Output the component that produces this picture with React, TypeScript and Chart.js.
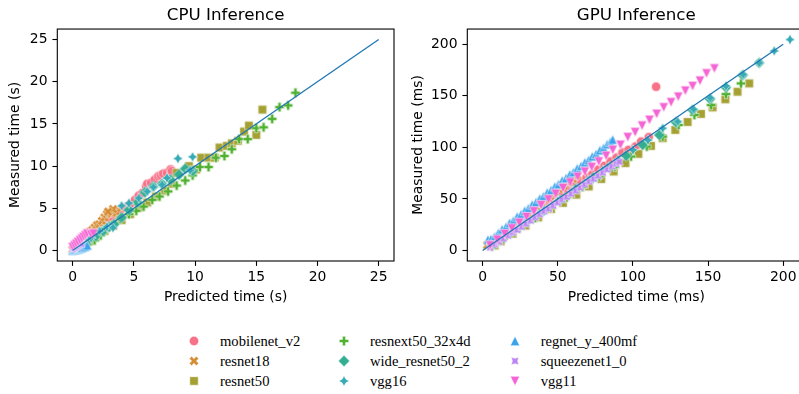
import React, { useEffect, useRef } from "react";
import { Chart, registerables } from "chart.js";

Chart.register(...registerables);

// ---------- categories / styling keys ----------
const models = [
  "mobilenet_v2",
  "resnet18",
  "resnet50",
  "resnext50_32x4d",
  "wide_resnet50_2",
  "vgg16",
  "regnet_y_400mf",
  "squeezenet1_0",
  "vgg11",
];
const colors = [
  "#f77189",
  "#d58c32",
  "#a4a031",
  "#50b131",
  "#34ae91",
  "#37abb5",
  "#3ba3ec",
  "#bb83f4",
  "#f564d4",
];
const markerShapes = [
  "circle",
  "xfilled",
  "square",
  "plusfilled",
  "diamond",
  "star4",
  "triUp",
  "star4rot",
  "triDown",
];

// ---------- ticks ----------
const cpuXTicks = [0, 5, 10, 15, 20, 25];
const cpuYTicks = [0, 5, 10, 15, 20, 25];
const gpuXTicks = [0, 50, 100, 150, 200];
const gpuYTicks = [0, 50, 100, 150, 200];
const cpuIdentity = [0, 25];
const gpuIdentity = [0, 200];

// ---------- CPU data: [predicted s, measured s] ----------
const cpuMobilenet = [[0.1,0.4],[0.3,0.6],[0.6,1.0],[0.9,1.3],[1.2,1.6],[1.5,2.0],[1.9,2.4],[2.3,2.8],[2.7,3.2],[3.1,3.7],[3.5,4.2],[3.9,4.7],[4.3,5.1],[4.7,5.5],[5.1,6.0],[5.4,6.5],[5.7,6.8],[6.0,7.6],[6.1,7.9],[6.4,8.0],[6.7,8.4],[7.0,8.8],[7.2,8.9],[7.4,9.1],[7.7,9.2],[8.0,9.6],[8.1,9.4]];
const cpuResnet18 = [[0.0,0.1],[0.2,0.4],[0.4,0.7],[0.6,1.0],[0.8,1.3],[1.0,1.6],[1.2,1.9],[1.4,2.2],[1.6,2.4],[1.8,2.7],[2.0,3.0],[2.2,3.1],[2.4,3.5],[2.6,3.9],[2.8,4.3],[3.0,4.5],[3.2,4.4],[3.4,4.7],[3.6,4.5],[3.3,4.9],[2.9,4.6]];
const cpuResnet50 = [[0.3,0.2],[0.8,0.6],[1.4,1.1],[2.0,1.7],[2.6,2.3],[3.3,2.9],[4.0,3.6],[4.7,4.3],[5.4,5.1],[6.1,5.7],[6.8,6.4],[7.5,7.1],[8.1,7.9],[8.5,9.2],[9.5,10.0],[10.1,9.6],[10.5,11.0],[11.1,11.0],[11.6,11.0],[12.0,12.2],[12.6,12.4],[13.0,12.7],[13.5,13.0],[14.0,14.1],[14.4,14.8],[15.0,13.7],[15.5,16.7]];
const cpuResnext50 = [[0.6,0.2],[1.2,0.7],[1.8,1.2],[2.3,1.8],[2.7,2.5],[3.2,3.0],[3.9,3.7],[4.6,4.3],[5.2,4.7],[5.8,5.2],[6.5,6.0],[7.1,6.4],[7.8,7.0],[8.5,7.7],[9.2,8.3],[9.8,8.9],[10.4,9.9],[11.1,9.9],[11.7,11.0],[12.4,11.2],[13.0,12.0],[13.6,13.2],[14.3,13.2],[15.0,14.5],[15.6,14.6],[16.3,15.6],[16.9,17.0],[17.6,17.2],[18.2,18.7]];
const cpuWideResnet = [[1.3,1.2],[1.9,1.7],[2.5,2.3],[3.0,2.8],[3.4,3.1],[4.0,3.9],[4.6,4.8],[5.3,5.7],[5.9,6.9],[6.6,7.6],[7.3,7.9],[8.0,8.4],[8.7,9.0],[9.2,9.7],[9.8,9.4]];
const cpuVgg16 = [[0.9,0.8],[1.5,1.5],[2.2,2.3],[2.8,2.8],[3.3,2.7],[4.0,5.3],[4.6,5.6],[5.4,6.2],[6.1,7.0],[6.6,7.5],[7.3,7.8],[7.7,8.6],[8.6,10.9],[9.8,11.1],[9.6,9.5]];
const cpuRegnet = [[0.0,0.0],[0.1,0.05],[0.2,0.1],[0.3,0.1],[0.4,0.15],[0.5,0.2],[0.6,0.25],[0.7,0.3],[0.8,0.35],[1.0,0.45],[1.2,0.6]];
const cpuSqueezenet = [[0.0,0.2],[0.1,0.3],[0.2,0.4],[0.3,0.5],[0.4,0.6],[0.5,0.7],[0.7,0.8]];
const cpuVgg11 = [[0.0,0.4],[0.15,0.6],[0.3,0.8],[0.45,1.0],[0.6,1.2],[0.75,1.4],[0.9,1.6],[1.05,1.8],[1.2,2.0],[1.5,1.9],[1.7,2.0]];

// ---------- GPU data: [predicted ms, measured ms] ----------
const gpuMobilenet = [[5,6],[9,10],[13,14.5],[17,18.5],[21,22],[25,26.5],[29,30],[33,34.5],[37,38],[41,42.5],[45,46],[49,50.5],[53,54],[57,58.5],[61,62],[65,66],[69,70.5],[73,74],[77,78.5],[81,82],[85,86.3],[89,90],[93,95],[97,97.5],[101.7,100.8],[105.4,105.6],[110.5,109.9],[115.4,158.8]];
const gpuResnet18 = [[3,5],[6,8],[9,11],[12,14.5],[15,18],[18,21.5],[21,25],[24,28.5],[27,32],[30,35.5],[33,39],[36,42.5],[39,46],[42,49.5],[45,53],[48,56],[51,59.5],[54,63],[57,66],[60,69.5],[63,73]];
const gpuResnet50 = [[8,5],[12,8.9],[20,16.3],[28.5,24.2],[37,32.1],[45.5,40.1],[53.4,46.1],[62.3,54.1],[70.6,62.1],[78.9,69.3],[87.2,76.6],[95,84.7],[103.6,93.7],[112,101.4],[119.8,108.9],[128.2,116.9],[136.4,124.6],[145.3,132.4],[153,138.8],[161.5,146.6],[169.6,153.9],[177.4,162]];
const gpuResnext50 = [[6,4],[14,11.5],[24.5,21.5],[35,31.5],[45.5,41.5],[56,51.5],[66.5,61.5],[77.7,71.8],[88,81],[98.8,91.1],[109.2,100.8],[119.8,110.4],[130.4,121.7],[140.9,131.4],[152,141],[161.9,151.7],[171.9,162]];
const gpuWideResnet = [[8,7],[18.5,17],[29.5,28],[40.5,38.5],[51.5,49],[62.5,60],[73.5,70.5],[84.5,81],[95.5,91.8],[106.5,102.4],[117.6,112],[128.7,124.3],[139.7,136.2],[151.3,146.9],[161.9,158.2],[173,170],[184,182]];
const gpuVgg16 = [[10,9],[20,19],[30,29],[40,38.5],[50,48],[60,58],[70,68],[80,78],[90,88],[100,97.5],[110,107],[119.8,118.5],[129.8,125],[140.4,136.9],[151.5,148],[161.9,159.4],[173.4,170.7],[184,182],[194,193.5],[204.5,204.5]];
const gpuRegnet = [[3.5,10.5],[5.5,11],[8,13.5],[10.5,17],[13,20.5],[15.5,23],[18,26.8],[20.5,29],[23,32.8],[25.5,35],[28,38.6],[30.5,41],[33,44.5],[35.5,46.8],[38,50.3],[40.5,52.6],[43,56.2],[45.5,58.5],[48,62],[50.5,64.3],[53,67.9],[55.5,70.2],[58,73.7],[60.5,76],[63,79.6],[65.5,82],[68,85.4],[70.5,87.8],[73,91.3],[75.5,93.6],[78,97.2],[80.5,99.5],[83,103],[85,105.2],[86.5,107.5]];
const gpuSqueezenet = [[5,3],[8,6],[11,8.5],[14,11.5],[17,14.5],[20,17.5],[23,20],[26,23],[29,26],[32,29],[35,32],[38,35],[41,38],[44,40.5],[47,43.5],[50,46.5],[53,49.5],[56,52],[59,55],[62,58],[65,61],[68,64],[71,67],[74,69.5],[77,72.5],[80,75.5],[83,78.5],[86,81.5],[89,84],[91,86]];
const gpuVgg11 = [[5,5],[9.8,10.5],[14.7,16],[19.5,21.5],[24.4,27],[29.2,32.5],[34.1,38],[38.9,44],[43.8,49.5],[48.6,55],[53.5,60.6],[58.3,66],[63.2,71.5],[68,76.5],[72.6,80.9],[77.3,86.3],[82.2,91.8],[86.6,97.6],[91.7,102.4],[96.6,109.9],[101.5,114.7],[106.1,121.1],[111,126.6],[115.8,132.4],[120.5,138.8],[125.4,143.7],[130.2,149.1],[134.9,154.9],[139.7,159.4],[144.6,164.6],[149,171.7],[154.2,176.5]];

const cpuSeries = [cpuMobilenet, cpuResnet18, cpuResnet50, cpuResnext50, cpuWideResnet, cpuVgg16, cpuRegnet, cpuSqueezenet, cpuVgg11];
const gpuSeries = [gpuMobilenet, gpuResnet18, gpuResnet50, gpuResnext50, gpuWideResnet, gpuVgg16, gpuRegnet, gpuSqueezenet, gpuVgg11];

// ---------- marker drawing ----------
const MARKER_SIZE = 9.4;
const MC = 16; // marker canvas size
function drawMarker(ctx: CanvasRenderingContext2D, shape: string, cx: number, cy: number, s: number, color: string) {
  ctx.beginPath();
  const poly = (pts: number[][]) => {
    pts.forEach(([x, y], i) => {
      if (i === 0) ctx.moveTo(cx + x * s, cy + y * s);
      else ctx.lineTo(cx + x * s, cy + y * s);
    });
    ctx.closePath();
  };
  const star = (rotDeg: number) => {
    const pts: number[][] = [];
    for (let k = 0; k < 8; k++) {
      const a = ((rotDeg + k * 45) * Math.PI) / 180;
      const r = k % 2 === 0 ? 0.56 : 0.28;
      pts.push([r * Math.sin(a), -r * Math.cos(a)]);
    }
    poly(pts);
  };
  switch (shape) {
    case "circle":
      ctx.arc(cx, cy, s / 2, 0, Math.PI * 2);
      break;
    case "xfilled":
      poly([[-1,-2],[0,-1],[1,-2],[2,-1],[1,0],[2,1],[1,2],[0,1],[-1,2],[-2,1],[-1,0],[-2,-1]].map(([x, y]) => [x / 4, y / 4]));
      break;
    case "square":
      poly([[-0.45,-0.45],[0.45,-0.45],[0.45,0.45],[-0.45,0.45]]);
      break;
    case "plusfilled": {
      const a = 1 / 6;
      poly([[-a,-0.5],[a,-0.5],[a,-a],[0.5,-a],[0.5,a],[a,a],[a,0.5],[-a,0.5],[-a,a],[-0.5,a],[-0.5,-a],[-a,-a]]);
      break;
    }
    case "diamond": {
      const d = 0.6;
      poly([[0,-d],[d,0],[0,d],[-d,0]]);
      break;
    }
    case "star4":
      star(0);
      break;
    case "star4rot":
      star(45);
      break;
    case "triUp":
      poly([[0,-0.5],[-0.5,0.5],[0.5,0.5]]);
      break;
    case "triDown":
      poly([[0,0.5],[-0.5,-0.5],[0.5,-0.5]]);
      break;
  }
  ctx.fillStyle = color;
  ctx.fill();
  ctx.lineWidth = 0.55;
  ctx.strokeStyle = "#ffffff";
  ctx.stroke();
}

function makeMarkerCanvas(shape: string, color: string) {
  const c = document.createElement("canvas");
  c.width = MC;
  c.height = MC;
  const ctx = c.getContext("2d")!;
  drawMarker(ctx, shape, MC / 2, MC / 2, MARKER_SIZE, color);
  return c;
}

const TICK_FONT = { family: "'DejaVu Sans', sans-serif", size: 13.9 };

const boxPlugin = {
  id: "axesBox",
  afterDatasetsDraw(chart: any) {
    const { ctx, chartArea } = chart;
    ctx.save();
    ctx.strokeStyle = "#000";
    ctx.lineWidth = 1.1;
    ctx.strokeRect(chartArea.left, chartArea.top, chartArea.right - chartArea.left, chartArea.bottom - chartArea.top);
    ctx.restore();
  },
};

function buildConfig(opts: {
  series: number[][][];
  identity: number[];
  xTicks: number[];
  yTicks: number[];
  range: number[];
  title: string;
  xLabel: string;
  yLabel: string;
  yScaleWidth: number;
  padRight: number;
  yTitlePad: number;
}): any {
  const datasets: any[] = opts.series.map((pts, i) => ({
    type: "scatter",
    label: models[i],
    data: pts.map(([x, y]) => ({ x, y })),
    pointStyle: makeMarkerCanvas(markerShapes[i], colors[i]),
    pointRadius: 5,
    order: 9 - i + 1,
  }));
  datasets.push({
    type: "line",
    label: "identity",
    data: opts.identity.map((v) => ({ x: v, y: v })),
    borderColor: "#1f77b4",
    borderWidth: 1.3,
    pointRadius: 0,
    fill: false,
    order: 0,
  });
  const [mn, mx] = opts.range;
  const axisCommon = {
    type: "linear",
    min: mn,
    max: mx,
    border: { display: false },
    grid: {
      drawOnChartArea: false,
      drawTicks: true,
      tickLength: 4.9,
      tickWidth: 1.1,
      tickColor: "#000",
      color: "#000",
    },
  };
  return {
    type: "scatter",
    data: { datasets },
    plugins: [boxPlugin],
    options: {
      responsive: false,
      animation: false,
      devicePixelRatio: 1,
      layout: { padding: { left: 0, top: 0, right: opts.padRight, bottom: 0 } },
      plugins: {
        legend: { display: false },
        tooltip: { enabled: false },
        title: {
          display: true,
          text: opts.title,
          fullSize: false,
          color: "#000",
          font: { family: "'DejaVu Sans', sans-serif", size: 16.7, weight: "normal" },
          padding: { top: 6, bottom: 3 },
        },
      },
      scales: {
        x: {
          ...axisCommon,
          position: "bottom",
          afterBuildTicks: (s: any) => {
            s.ticks = opts.xTicks.map((v) => ({ value: v }));
          },
          afterFit: (s: any) => {
            s.height = 49;
          },
          ticks: { padding: 3, color: "#000", font: TICK_FONT, maxRotation: 0, autoSkip: false },
          title: {
            display: true,
            text: opts.xLabel,
            color: "#000",
            font: TICK_FONT,
            padding: { top: 0, bottom: 4.3 },
          },
        },
        y: {
          ...axisCommon,
          position: "left",
          afterBuildTicks: (s: any) => {
            s.ticks = opts.yTicks.map((v) => ({ value: v }));
          },
          afterFit: (s: any) => {
            s.width = opts.yScaleWidth;
          },
          ticks: { padding: 4.9, color: "#000", font: TICK_FONT, autoSkip: false },
          title: {
            display: true,
            text: opts.yLabel,
            color: "#000",
            font: TICK_FONT,
            padding: { top: opts.yTitlePad, bottom: 0 },
          },
        },
      },
    },
  };
}

function MarkerIcon({ shape, color, x, y }: { shape: string; color: string; x: number; y: number }) {
  const ref = useRef<HTMLCanvasElement>(null);
  useEffect(() => {
    const c = ref.current;
    if (!c) return;
    const ctx = c.getContext("2d")!;
    ctx.clearRect(0, 0, MC, MC);
    drawMarker(ctx, shape, MC / 2, MC / 2, MARKER_SIZE, color);
  }, [shape, color]);
  return (
    <canvas
      ref={ref}
      width={MC}
      height={MC}
      style={{ position: "absolute", left: x - MC / 2, top: y - MC / 2, width: MC, height: MC }}
    />
  );
}

const legendMarkerX = [194, 344, 514.7];
const legendTextX = [220, 370, 540.7];
const legendRowY = [341, 361, 381];

export default function App() {
  const cpuRef = useRef<HTMLCanvasElement>(null);
  const gpuRef = useRef<HTMLCanvasElement>(null);

  useEffect(() => {
    const cpu = new Chart(
      cpuRef.current!,
      buildConfig({
        series: cpuSeries,
        identity: cpuIdentity,
        xTicks: cpuXTicks,
        yTicks: cpuYTicks,
        range: [-1.25, 26.25],
        title: "CPU Inference",
        xLabel: "Predicted time (s)",
        yLabel: "Measured time (s)",
        yScaleWidth: 57.3,
        padRight: 4.7,
        yTitlePad: 6.9,
      })
    );
    const gpu = new Chart(
      gpuRef.current!,
      buildConfig({
        series: gpuSeries,
        identity: gpuIdentity,
        xTicks: gpuXTicks,
        yTicks: gpuYTicks,
        range: [-10.2, 214.7],
        title: "GPU Inference",
        xLabel: "Predicted time (ms)",
        yLabel: "Measured time (ms)",
        yScaleWidth: 67.3,
        padRight: 14.7,
        yTitlePad: 10,
      })
    );
    return () => {
      cpu.destroy();
      gpu.destroy();
    };
  }, []);

  return (
    <div
      style={{
        position: "absolute",
        left: 0,
        top: 0,
        width: 799,
        height: 394,
        overflow: "hidden",
        background: "#fff",
      }}
    >
      <canvas ref={cpuRef} width={400} height={310} style={{ position: "absolute", left: 0, top: 0, width: 400, height: 310 }} />
      <canvas ref={gpuRef} width={420} height={310} style={{ position: "absolute", left: 400, top: 0, width: 420, height: 310 }} />
      {models.map((m, i) => {
        const col = Math.floor(i / 3);
        const row = i % 3;
        return (
          <React.Fragment key={m}>
            <MarkerIcon shape={markerShapes[i]} color={colors[i]} x={legendMarkerX[col]} y={legendRowY[row]} />
            <span
              style={{
                position: "absolute",
                left: legendTextX[col],
                top: legendRowY[row] + 5 - 12.2,
                fontFamily: "'Liberation Serif', serif",
                fontSize: 14.6,
                lineHeight: "14.6px",
                color: "#000",
                whiteSpace: "nowrap",
              }}
            >
              {m}
            </span>
          </React.Fragment>
        );
      })}
    </div>
  );
}
